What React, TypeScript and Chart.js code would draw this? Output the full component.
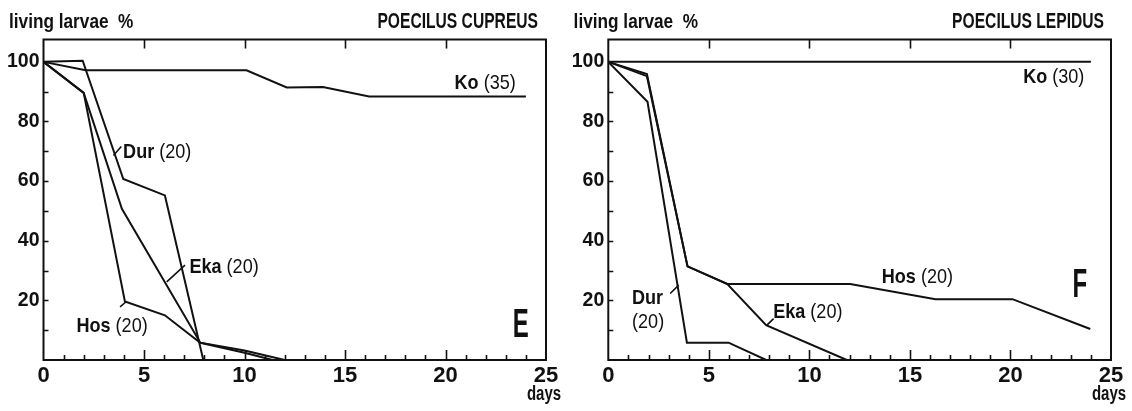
import React, { useEffect, useRef } from "react";
import { Chart, registerables } from "chart.js";
Chart.register(...registerables);

const FONT = '"Liberation Sans", Arial, Helvetica, sans-serif';
const W = 566;
const H = 411;

// ---- axis ticks ----
const xTickLabels = [0, 5, 10, 15, 20, 25];
const yTickLabels = [20, 40, 60, 80, 100];

// ---- Panel E: Poecilus cupreus ----
const cupreusKoDays = [0, 2.1, 10.1, 12.1, 13.9, 16.2, 24];
const cupreusKoValues = [100, 97.2, 97.2, 91.4, 91.6, 88.4, 88.4];
const cupreusDurDays = [0, 1.95, 3.97, 6.04, 7.95];
const cupreusDurValues = [100, 100.4, 60.7, 55.2, 0];
const cupreusEkaDays = [0, 2.0, 3.9, 7.8, 10, 12];
const cupreusEkaValues = [100, 89.6, 50.7, 5.8, 3.2, 0];
const cupreusHosDays = [0, 2.0, 4.05, 6.04, 7.8, 10, 11.4];
const cupreusHosValues = [100, 89.6, 19.6, 15, 5.8, 2.4, 0];

// ---- Panel F: Poecilus lepidus ----
const lepidusKoDays = [0, 24];
const lepidusKoValues = [100, 100];
const lepidusDurDays = [0, 1.95, 3.91, 5.98, 7.85];
const lepidusDurValues = [100, 86.6, 5.8, 5.8, 0];
const lepidusEkaDays = [0, 1.92, 3.94, 5.92, 7.85, 11.86];
const lepidusEkaValues = [100, 95.2, 31.4, 25.5, 11.7, 0];
const lepidusHosDays = [0, 1.92, 3.94, 5.92, 12.03, 16.27, 20.1, 23.97];
const lepidusHosValues = [100, 95.9, 31.4, 25.5, 25.5, 20.4, 20.4, 10.4];

type Part = { t: string; b: boolean };
type Label = { parts: Part[]; day: number; val: number };
type Leader = [number, number, number, number];

const cupreusLabels: Label[] = [
  { parts: [{ t: "Ko", b: true }, { t: " (35)", b: false }], day: 20.45, val: 92.7 },
  { parts: [{ t: "Dur", b: true }, { t: " (20)", b: false }], day: 3.96, val: 69.8 },
  { parts: [{ t: "Eka", b: true }, { t: " (20)", b: false }], day: 7.26, val: 31.1 },
  { parts: [{ t: "Hos", b: true }, { t: " (20)", b: false }], day: 1.64, val: 11.5 },
];
const cupreusLeaders: Leader[] = [
  [3.48, 68.6, 3.87, 71.6],
  [6.13, 26.2, 7.04, 31.8],
  [3.81, 17.8, 4.14, 19.7],
];
const lepidusLabels: Label[] = [
  { parts: [{ t: "Ko", b: true }, { t: " (30)", b: false }], day: 20.63, val: 95 },
  { parts: [{ t: "Hos", b: true }, { t: " (20)", b: false }], day: 13.6, val: 27.8 },
  { parts: [{ t: "Eka", b: true }, { t: " (20)", b: false }], day: 8.2, val: 16 },
  { parts: [{ t: "Dur", b: true }], day: 1.18, val: 20.7 },
  { parts: [{ t: "(20)", b: false }], day: 1.18, val: 12.6 },
];
const lepidusLeaders: Leader[] = [
  [3.08, 22.3, 3.5, 25.1],
  [7.89, 11.7, 8.22, 13.9],
];

function ds(days: number[], values: number[]) {
  return {
    data: days.map((d, i) => ({ x: d, y: values[i] })),
    borderColor: "#111",
    borderWidth: 2,
    pointRadius: 0,
    fill: false,
    tension: 0,
  };
}

function drawScaled(ctx: CanvasRenderingContext2D, text: string, x: number, y: number, size: number, bold: boolean, sx: number) {
  ctx.save();
  ctx.font = `${bold ? "bold " : ""}${size}px ${FONT}`;
  ctx.translate(x, y);
  ctx.scale(sx, 1);
  ctx.fillText(text, 0, 0);
  const w = ctx.measureText(text).width * sx;
  ctx.restore();
  return w;
}
function measureScaled(ctx: CanvasRenderingContext2D, text: string, size: number, bold: boolean, sx: number) {
  ctx.save();
  ctx.font = `${bold ? "bold " : ""}${size}px ${FONT}`;
  const w = ctx.measureText(text).width * sx;
  ctx.restore();
  return w;
}

type PanelProps = {
  left: number;
  yAxisWidth: number;
  rightPad: number;
  title: string;
  letter: string;
  letterDay: number;
  letterVal: number;
  series: { days: number[]; values: number[] }[];
  labels: Label[];
  leaders: Leader[];
};

function Panel(p: PanelProps) {
  const ref = useRef<HTMLCanvasElement | null>(null);
  useEffect(() => {
    if (!ref.current) return;
    const overlay = {
      id: "overlay",
      afterDraw(chart: any) {
        const ctx: CanvasRenderingContext2D = chart.ctx;
        const a = chart.chartArea;
        const xs = chart.scales.x;
        const ys = chart.scales.y;
        ctx.save();
        ctx.strokeStyle = "#111";
        ctx.fillStyle = "#111";
        ctx.lineWidth = 2;
        ctx.strokeRect(a.left, a.top, a.right - a.left, a.bottom - a.top);
        ctx.lineWidth = 1.6;
        ctx.beginPath();
        for (let d = 1; d < 25; d++) {
          const px = Math.round(xs.getPixelForValue(d)) + 0.5;
          const len = d % 5 === 0 ? 10 : 5;
          ctx.moveTo(px, a.bottom);
          ctx.lineTo(px, a.bottom - len);
          if (d % 5 === 0) {
            ctx.moveTo(px, a.top);
            ctx.lineTo(px, a.top + 9);
          }
        }
        for (let v = 10; v <= 100; v += 10) {
          const py = Math.round(ys.getPixelForValue(v)) + 0.5;
          ctx.moveTo(a.left, py);
          ctx.lineTo(a.left + 5, py);
        }
        ctx.stroke();
        // leaders
        ctx.lineWidth = 1.6;
        ctx.beginPath();
        for (const l of p.leaders) {
          ctx.moveTo(xs.getPixelForValue(l[0]), ys.getPixelForValue(l[1]));
          ctx.lineTo(xs.getPixelForValue(l[2]), ys.getPixelForValue(l[3]));
        }
        ctx.stroke();
        // labels
        ctx.textBaseline = "middle";
        ctx.textAlign = "left";
        for (const lb of p.labels) {
          let x = xs.getPixelForValue(lb.day);
          const y = ys.getPixelForValue(lb.val);
          for (const part of lb.parts) {
            x += drawScaled(ctx, part.t, x, y, 21, part.b, 0.86);
          }
        }
        // letter
        ctx.textBaseline = "alphabetic";
        const lw = measureScaled(ctx, p.letter, 40, true, 0.6);
        drawScaled(ctx, p.letter, xs.getPixelForValue(p.letterDay) - lw / 2, ys.getPixelForValue(p.letterVal), 40, true, 0.6);
        // titles
        drawScaled(ctx, "living larvae  %", p.left === 0 ? 9 : 7.6, 28, 21, true, 0.82);
        const tw = measureScaled(ctx, p.title, 22, true, 0.71);
        drawScaled(ctx, p.title, 538 - tw, 28, 22, true, 0.71);
        const dw = measureScaled(ctx, "days", 20, true, 0.75);
        drawScaled(ctx, "days", a.right - 2 - dw / 2, 400, 20, true, 0.75);
        ctx.restore();
      },
    };
    const chart = new Chart(ref.current, {
      type: "line",
      data: { datasets: p.series.map((s) => ds(s.days, s.values)) as any },
      options: {
        animation: false,
        responsive: false,
        events: [],
        layout: { padding: { left: 0, top: 39.5, right: p.rightPad, bottom: 0 } },
        plugins: { legend: { display: false }, tooltip: { enabled: false } },
        scales: {
          x: {
            type: "linear",
            min: 0,
            max: 25,
            grid: { display: false, drawTicks: false },
            border: { display: false },
            afterBuildTicks: (s: any) => {
              s.ticks = xTickLabels.map((v) => ({ value: v }));
            },
            afterFit: (s: any) => {
              s.height = 51;
            },
            ticks: {
              color: "#111",
              padding: 3,
              maxRotation: 0,
              autoSkip: false,
              font: { family: FONT, size: 22, weight: "bold" },
            },
          },
          y: {
            type: "linear",
            min: 0,
            max: 107.5,
            grid: { display: false, drawTicks: false },
            border: { display: false },
            afterBuildTicks: (s: any) => {
              s.ticks = yTickLabels.map((v) => ({ value: v }));
            },
            afterFit: (s: any) => {
              s.width = p.yAxisWidth;
            },
            ticks: {
              color: "#111",
              padding: 4,
              autoSkip: false,
              font: { family: FONT, size: 19.5, weight: "bold" },
            },
          },
        },
      } as any,
      plugins: [overlay],
    });
    return () => chart.destroy();
  }, []);
  return (
    <canvas
      ref={ref}
      width={W}
      height={H}
      style={{ position: "absolute", left: p.left, top: 0, width: W, height: H }}
    />
  );
}

export default function App() {
  return (
    <div style={{ position: "fixed", left: 0, top: 0, width: 1132, height: 411, background: "#fff", overflow: "hidden" }}>
      <Panel
        left={0}
        yAxisWidth={43.5}
        rightPad={20}
        title="POECILUS CUPREUS"
        letter="E"
        letterDay={23.75}
        letterVal={7.6}
        series={[
          { days: cupreusKoDays, values: cupreusKoValues },
          { days: cupreusDurDays, values: cupreusDurValues },
          { days: cupreusEkaDays, values: cupreusEkaValues },
          { days: cupreusHosDays, values: cupreusHosValues },
        ]}
        labels={cupreusLabels}
        leaders={cupreusLeaders}
      />
      <Panel
        left={566}
        yAxisWidth={42.3}
        rightPad={21}
        title="POECILUS LEPIDUS"
        letter="F"
        letterDay={23.45}
        letterVal={21}
        series={[
          { days: lepidusKoDays, values: lepidusKoValues },
          { days: lepidusDurDays, values: lepidusDurValues },
          { days: lepidusEkaDays, values: lepidusEkaValues },
          { days: lepidusHosDays, values: lepidusHosValues },
        ]}
        labels={lepidusLabels}
        leaders={lepidusLeaders}
      />
    </div>
  );
}
